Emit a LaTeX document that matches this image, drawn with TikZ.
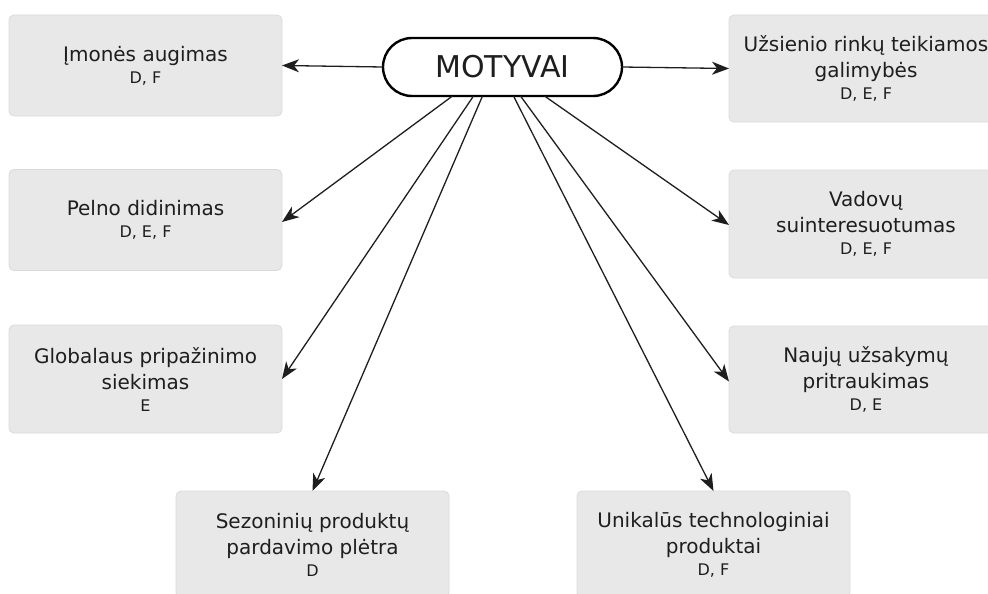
\documentclass[tikz,border=0pt]{standalone}
\usepackage{fontspec}
\setmainfont{DejaVu Sans}
\usetikzlibrary{arrows.meta,shapes.misc}

\definecolor{boxfill}{HTML}{E8E8E8}
\definecolor{boxline}{HTML}{DADADA}
\definecolor{ink}{HTML}{1E1E1E}

\newcommand{\tag}[1]{\\[-4pt]{\fontsize{16}{18}\selectfont #1}}

\tikzset{
  motive/.style={rectangle, rounded corners=5pt, fill=boxfill, draw=boxline,
    line width=0.8pt, inner sep=0pt, outer sep=0pt, align=center,
    minimum width=273pt, text=ink,
    font=\fontsize{20}{26}\selectfont},
  hub/.style={rounded rectangle, draw=black, line width=2.4pt, fill=white,
    minimum width=239pt, minimum height=58pt, inner sep=0pt, outer sep=0pt,
    text=ink, font=\fontsize{30}{36}\selectfont},
  link/.style={draw=ink, line width=1.3pt,
    -{Stealth[length=17pt,width=13pt,inset=5pt]}}
}

\begin{document}
\begin{tikzpicture}[x=1pt,y=-1pt]
  \useasboundingbox (0,0) rectangle (988,594);

  % left column
  \node[motive, minimum height=101pt] (growth) at (145.5,65.5)
    {Įmonės augimas\tag{D, F}};
  \node[motive, minimum height=101pt] (profit) at (145.5,220)
    {Pelno didinimas\tag{D, E, F}};
  \node[motive, minimum height=108pt] (global) at (145.5,379)
    {Globalaus pripažinimo\\siekimas\tag{E}};

  % bottom row
  \node[motive, minimum height=107pt] (season) at (312.5,544.5)
    {Sezoninių produktų\\pardavimo plėtra\tag{D}};
  \node[motive, minimum height=107pt] (unique) at (713.5,544.5)
    {Unikalūs technologiniai\\produktai\tag{D, F}};

  % right column
  \node[motive, minimum width=274pt, minimum height=107pt] (foreign) at (866,68.5)
    {Užsienio rinkų teikiamos\\galimybės\tag{D, E, F}};
  \node[motive, minimum width=274pt, minimum height=108pt] (managers) at (866,224)
    {Vadovų\\suinteresuotumas\tag{D, E, F}};
  \node[motive, minimum width=274pt, minimum height=107pt] (orders) at (866,379.5)
    {Naujų užsakymų\\pritraukimas\tag{D, E}};

  % central hub
  \node[hub] (hub) at (502.5,67) {MOTYVAI};

  % connectors
  \draw[link] (hub.west) -- (growth.east);
  \draw[link] (hub.east) -- (foreign.west);
  \draw[link] ([xshift=-50pt]hub.south) -- ([yshift=-2pt]profit.east);
  \draw[link] ([xshift=-29pt]hub.south) -- (global.east);
  \draw[link] ([xshift=-20pt]hub.south) -- (season.north);
  \draw[link] ([xshift=11pt]hub.south) -- (unique.north);
  \draw[link] ([xshift=18pt]hub.south) -- ([yshift=-2pt]orders.west);
  \draw[link] ([xshift=42pt]hub.south) -- ([yshift=-1pt]managers.west);
\end{tikzpicture}
\end{document}
